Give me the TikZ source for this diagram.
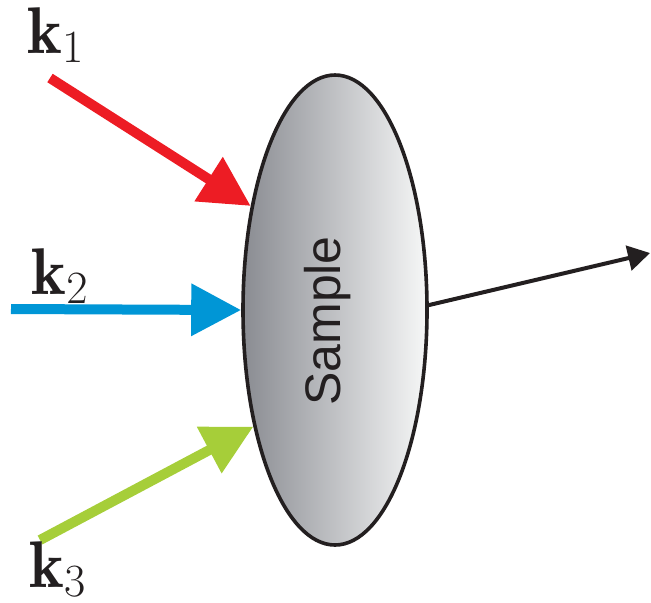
\documentclass[tikz,border=0pt]{standalone}
\usepackage{fix-cm}
\usepackage{fontspec}
\newfontfamily\samplefont{Liberation Sans}
\usetikzlibrary{shapes.geometric,arrows.meta}
\definecolor{beamred}{RGB}{237,28,36}
\definecolor{beamblue}{RGB}{0,150,214}
\definecolor{beamgreen}{RGB}{166,206,57}
\definecolor{sampledark}{RGB}{138,140,146}
\definecolor{samplelight}{RGB}{246,247,247}
\definecolor{inkblack}{RGB}{35,31,32}
\begin{document}
\begin{tikzpicture}[x=0.5pt,y=-0.5pt,
  beam/.style={line width=5pt,-{Triangle[length=25pt,width=25pt]}},
  outbeam/.style={line width=2pt,inkblack,-{Triangle[length=11pt,width=12.5pt]}},
  klabel/.style={inner sep=0pt,anchor=base west,text=inkblack,font=\fontsize{33}{40}\selectfont}]
\useasboundingbox (0,0) rectangle (651,602);

% the sample
\node[ellipse, draw=inkblack, line width=1.8pt, minimum width=92pt,
      minimum height=235pt, inner sep=0pt,
      left color=sampledark, right color=samplelight] (sample) at (335,310) {};
\node[rotate=90, anchor=base, inner sep=0pt, text=inkblack,
      font=\samplefont\fontsize{25}{30}\selectfont] (samplename) at (340,321) {Sample};

% incoming beams
\coordinate (k1start) at (50,78);
\coordinate (k2start) at (11,309);
\coordinate (k3start) at (40,540);
\draw[beam, beamred]   (k1start) -- (sample.129.5);
\draw[beam, beamblue]  (k2start) -- (sample.180);
\draw[beam, beamgreen] (k3start) -- (sample.-125.4);

% outgoing signal
\coordinate (signalend) at (650,253);
\draw[outbeam] (sample.3) -- (signalend);

% wave vectors
\node[klabel] (k1) at (27,53)  {$\mathbf{k}_1$};
\node[klabel] (k2) at (31,294) {$\mathbf{k}_2$};
\node[klabel] (k3) at (29,587) {$\mathbf{k}_3$};
\end{tikzpicture}
\end{document}
